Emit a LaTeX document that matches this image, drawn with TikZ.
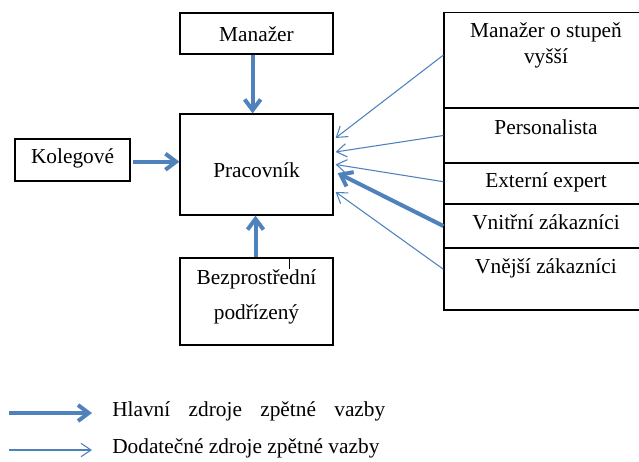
\documentclass[tikz,border=0pt]{standalone}
\usepackage{fontspec}
\setmainfont{Liberation Serif}
\usepackage{xcolor}
\usetikzlibrary{arrows.meta,calc}
\definecolor{zblue}{HTML}{4F81BD}
\tikzset{
box/.style={draw,line width=0.9pt,inner sep=0pt},
txt/.style={inner sep=0pt,align=center},
hlavni/.style={zblue,line width=3pt,-{Straight Barb[length=8pt,width=12pt]}},
dodat/.style={zblue,line width=0.8pt,-{Straight Barb[length=7.5pt,width=10pt]}}
}
\begin{document}
\begin{tikzpicture}[x=0.75pt,y=-0.75pt,font=\fontsize{16}{19.5}\selectfont]
\useasboundingbox (0,0) rectangle (639,461);
% left part
\node[box,minimum width=114.75pt,minimum height=30.75pt](mgr) at (256.5,33.5){};
\node[box,minimum width=86.25pt,minimum height=31.5pt](kol) at (72.5,160){};
\node[box,minimum width=114.75pt,minimum height=75.75pt](prac) at (256.5,164.5){};
\node[box,minimum width=114.75pt,minimum height=65.25pt](bez) at (256.5,301.5){};
\node[txt](tmgr) at (256.5,34){Manažer};
\node[txt](tkol) at (72.5,158){Kolegové};
\node[txt](tprac) at (256.5,170.5){Pracovník};
\node[txt,font=\fontsize{16}{26.8}\selectfont](tbez) at (256.5,297){Bezprostřední\\podřízený};
\draw[line width=0.6pt] ([xshift=24.6pt]bez.north)--++(0,12);
% right column
\node[box,minimum width=153pt,minimum height=71.6pt](sup) at (546,60.25){};
\node[box,minimum width=153pt,minimum height=41.25pt](per) at (546,135.5){};
\node[box,minimum width=153pt,minimum height=30.75pt](ext) at (546,183.5){};
\node[box,minimum width=153pt,minimum height=33pt](vni) at (546,226){};
\node[box,minimum width=153pt,minimum height=46.5pt](vne) at (546,279){};
\node[txt](tsup) at (546,45){Manažer o stupeň\\vyšší};
\node[txt](tper) at (546,126.7){Personalista};
\node[txt](text) at (546,182.7){Externí expert};
\node[txt](tvni) at (546,222.7){Vnitřní zákazníci};
\node[txt](tvne) at (546,268.3){Vnější zákazníci};
% arrows
\draw[hlavni]([xshift=-2.9pt]mgr.south)--([xshift=-2.9pt]prac.north);
\draw[hlavni]([xshift=-0.75pt]bez.north)--([xshift=-0.75pt]prac.south);
\draw[hlavni]([xshift=1.5pt,yshift=-1.3pt]kol.east)--([yshift=-1.3pt]kol.east -| prac.west);
\draw[dodat]([yshift=3.9pt]sup.west)--([xshift=1.5pt,yshift=19.9pt]prac.east);
\draw[dodat](per.west)--([xshift=1.5pt,yshift=9.4pt]prac.east);
\draw[dodat]([yshift=1.35pt]ext.west)--([xshift=1.5pt]prac.east);
\draw[hlavni](vni.west)--([xshift=3pt,yshift=-6.4pt]prac.east);
\draw[dodat]([yshift=7.3pt]vne.west)--([xshift=1.5pt,yshift=-20.6pt]prac.east);
% legend
\coordinate(l1) at (9,413);
\coordinate(l1e) at (92,413);
\coordinate(l2) at (9,450);
\coordinate(l2e) at (92,450);
\node[txt,anchor=west](th) at (112,411.7){\makebox[204.75pt][s]{Hlavní zdroje zpětné vazby}};
\node[txt,anchor=west](td) at (112,448){Dodatečné zdroje zpětné vazby};
\draw[hlavni](l1)--(l1e);
\draw[dodat](l2)--(l2e);
\end{tikzpicture}
\end{document}
